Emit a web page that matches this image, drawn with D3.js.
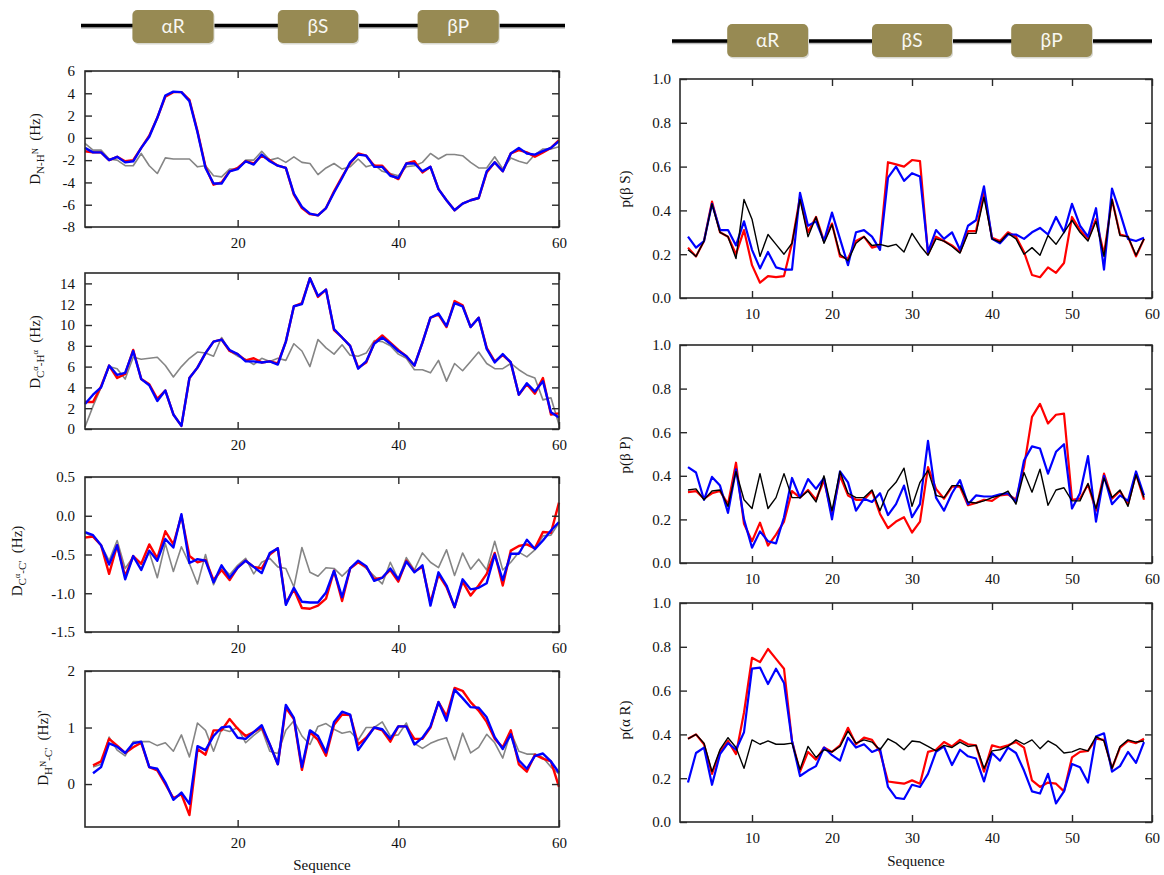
<!DOCTYPE html>
<html><head><meta charset="utf-8">
<script src="https://cdn.jsdelivr.net/npm/d3@7"></script>
<style>body{margin:0;background:#fff}svg{display:block}</style>
</head><body><svg id="c" width="1164" height="875"></svg>
<script>
// ---------------- DATA ----------------
const seqAll = d3.range(1, 61);     // residues 1..60
const seqFrom2 = d3.range(2, 61);   // residues 2..60
const seqRight = d3.range(2, 60);   // residues 2..59
const leftXTicks = [20, 40, 60];
const rightXTicks = [10, 20, 30, 40, 50, 60];
const headerLabels = ['αR', 'βS', 'βP'];
const headerFrom = [6.9, 25.0, 42.4];
const headerTo = [17.0, 35.0, 52.5];

// D N-HN
const nhRed = [-1.2,-1.3,-1.3,-2.0,-1.7,-2.1,-2.0,-0.9,0.2,1.8, 3.7,4.1,4.1,3.4,0.6,-2.6,-4.2,-4.0,-3.0,-2.7, -2.1,-2.3,-1.6,-2.0,-2.5,-2.7,-5.1,-6.3,-6.85,-6.95, -6.3,-4.8,-3.5,-2.3,-1.4,-1.6,-2.5,-2.5,-3.3,-3.7, -2.3,-2.1,-3.1,-2.6,-4.6,-5.6,-6.5,-5.9,-5.6,-5.4, -3.1,-2.2,-3.0,-1.4,-1.1,-1.3,-1.7,-1.3,-0.9,-0.2];
const nhBlue = [-0.9,-1.3,-1.3,-2.0,-1.7,-2.2,-2.1,-0.9,0.1,1.8, 3.8,4.15,4.1,3.3,0.5,-2.7,-4.1,-4.1,-3.0,-2.8, -2.1,-2.4,-1.5,-2.1,-2.5,-2.7,-5.0,-6.2,-6.8,-6.95, -6.3,-4.9,-3.6,-2.2,-1.5,-1.6,-2.6,-2.6,-3.4,-3.6, -2.3,-2.3,-3.0,-2.6,-4.6,-5.6,-6.5,-5.9,-5.6,-5.4, -3.0,-2.2,-3.0,-1.4,-0.9,-1.4,-1.5,-1.2,-0.9,-0.3];
const nhGray = [-0.5,-1.1,-1.1,-1.9,-2.0,-2.5,-2.5,-1.4,-2.5,-3.2, -1.8,-1.9,-1.9,-1.9,-2.6,-2.5,-3.4,-3.5,-2.8,-2.8, -2.0,-2.0,-1.2,-2.0,-1.8,-2.2,-1.7,-2.2,-2.3,-3.3, -2.7,-2.3,-2.8,-2.6,-1.9,-2.6,-2.4,-3.0,-3.2,-3.4, -2.6,-2.5,-2.2,-1.4,-1.9,-1.5,-1.5,-1.6,-2.2,-2.7, -2.7,-1.7,-2.8,-1.8,-2.1,-2.3,-1.5,-1.0,-1.0,-0.8];

// D Ca-Ha
const caRed = [2.6,2.6,4.1,6.1,4.9,5.3,7.6,4.8,4.3,2.9, 3.7,1.4,0.3,4.9,5.9,7.3,8.4,8.6,7.5,7.2, 6.6,6.8,6.4,6.5,6.3,8.4,11.8,12.1,14.5,12.7, 13.4,9.5,8.8,8.0,5.9,6.4,8.3,9.0,8.3,7.6, 7.0,6.1,8.3,10.7,11.0,9.8,12.3,11.9,9.8,10.7, 7.8,6.5,7.1,6.4,3.3,4.3,3.4,4.9,1.4,1.5];
const caBlue = [2.4,3.3,4.0,6.1,5.2,5.4,7.5,4.8,4.2,2.7, 3.7,1.4,0.3,4.9,5.9,7.3,8.4,8.6,7.6,7.2, 6.5,6.5,6.4,6.5,6.2,8.4,11.8,12.0,14.5,12.8, 13.4,9.6,8.8,8.0,5.8,6.5,8.2,8.8,8.2,7.5, 7.0,6.1,8.3,10.7,11.1,9.9,12.1,11.8,9.8,10.7, 7.7,6.4,7.2,6.4,3.3,4.4,3.6,4.6,1.6,1.1];
const caGray = [0.2,2.2,4.0,6.0,5.8,4.8,6.9,6.7,6.8,6.9, 6.1,5.0,6.0,6.8,7.4,7.3,7.0,8.8,7.5,7.0, 6.7,6.2,6.8,6.5,6.8,6.6,8.2,7.5,6.0,8.6, 7.8,7.2,8.1,7.1,7.0,7.3,8.5,8.4,8.0,7.2, 6.8,5.7,5.7,5.4,6.6,4.6,6.3,5.6,6.5,7.4, 6.3,5.8,5.8,6.3,5.7,5.2,4.9,2.8,3.0,0.4];

// D Ca-C'
const ccRed = [-0.28,-0.27,-0.38,-0.75,-0.38,-0.78,-0.52,-0.62,-0.37,-0.55, -0.20,-0.37,0.00,-0.52,-0.60,-0.57,-0.83,-0.70,-0.83,-0.67, -0.58,-0.66,-0.68,-0.50,-0.42,-1.13,-0.95,-1.19,-1.20,-1.16, -1.07,-0.71,-1.10,-0.68,-0.60,-0.66,-0.82,-0.80,-0.70,-0.85, -0.58,-0.72,-0.66,-1.12,-0.76,-0.92,-1.18,-0.85,-1.03,-0.90, -0.75,-0.48,-0.90,-0.45,-0.39,-0.37,-0.42,-0.21,-0.22,0.17];
const ccBlue = [-0.21,-0.25,-0.38,-0.63,-0.38,-0.82,-0.52,-0.70,-0.45,-0.58, -0.30,-0.41,0.02,-0.61,-0.56,-0.58,-0.86,-0.64,-0.80,-0.67, -0.58,-0.66,-0.74,-0.48,-0.42,-1.15,-0.93,-1.11,-1.12,-1.12, -0.99,-0.71,-1.05,-0.68,-0.58,-0.65,-0.84,-0.80,-0.68,-0.82, -0.59,-0.73,-0.64,-1.16,-0.73,-0.90,-1.18,-0.82,-0.95,-0.93, -0.87,-0.50,-0.83,-0.49,-0.49,-0.31,-0.43,-0.32,-0.19,-0.08];
const ccGray = [-0.22,-0.27,-0.38,-0.58,-0.32,-0.68,-0.53,-0.68,-0.47,-0.80, -0.36,-0.72,-0.40,-0.62,-0.88,-0.50,-0.89,-0.66,-0.76,-0.64, -0.55,-0.75,-0.60,-0.55,-0.66,-0.68,-0.92,-0.41,-0.73,-0.78, -0.67,-0.68,-0.78,-0.68,-0.60,-0.68,-0.78,-0.88,-0.60,-0.82, -0.54,-0.70,-0.48,-0.60,-0.67,-0.44,-0.77,-0.48,-0.69,-0.56, -0.70,-0.33,-0.70,-0.60,-0.47,-0.53,-0.44,-0.26,-0.25,-0.09];

// D HN-C' (residues 2..60)
const hcRed = [0.33,0.40,0.80,0.68,0.55,0.65,0.73,0.30,0.24,0.00, -0.25,-0.18,-0.55,0.62,0.52,0.95,0.95,1.15,0.98,0.85, 0.92,1.00,0.70,0.35,1.35,1.15,0.25,0.92,0.78,0.50, 1.05,1.23,1.22,0.70,0.82,1.00,0.95,0.75,1.02,1.02, 0.80,0.80,1.00,1.45,1.20,1.70,1.65,1.45,1.30,1.10, 0.80,0.65,0.95,0.35,0.22,0.52,0.45,0.40,-0.05];
const hcBlue = [0.19,0.30,0.72,0.66,0.55,0.72,0.75,0.30,0.27,0.03, -0.28,-0.15,-0.35,0.67,0.60,0.85,1.00,1.02,0.82,0.80, 0.92,1.04,0.70,0.35,1.40,1.17,0.30,0.95,0.85,0.56, 1.10,1.28,1.23,0.60,0.80,1.00,0.97,0.80,1.02,1.02, 0.70,0.82,1.02,1.45,1.12,1.67,1.52,1.36,1.35,1.18, 0.83,0.62,0.88,0.42,0.27,0.50,0.54,0.40,0.20];
const hcGray = [0.30,0.35,0.83,0.60,0.50,0.75,0.75,0.75,0.68,0.73, 0.58,0.87,0.48,1.08,0.95,0.58,0.97,0.93,1.00,0.73, 0.86,0.97,0.58,0.54,0.95,1.12,0.85,0.70,1.02,1.07, 0.97,0.90,0.93,0.78,1.00,1.00,1.10,0.85,0.87,1.08, 0.72,0.63,0.72,0.78,0.82,0.43,0.90,0.55,0.65,0.88, 0.73,0.46,0.92,0.58,0.53,0.53,0.47,0.30,0.18];

// p(beta S) (residues 2..59)
const bsRed = [0.23,0.19,0.26,0.44,0.30,0.28,0.20,0.31,0.15,0.07, 0.10,0.095,0.10,0.25,0.46,0.30,0.37,0.26,0.34,0.19, 0.18,0.26,0.28,0.23,0.24,0.62,0.61,0.60,0.63,0.625, 0.20,0.28,0.26,0.24,0.21,0.305,0.305,0.48,0.275,0.26, 0.30,0.28,0.21,0.105,0.095,0.14,0.115,0.16,0.37,0.31, 0.27,0.36,0.20,0.45,0.29,0.28,0.19,0.27];
const bsBlue = [0.28,0.23,0.26,0.43,0.31,0.31,0.24,0.35,0.22,0.135, 0.21,0.14,0.13,0.13,0.48,0.33,0.35,0.26,0.39,0.27, 0.15,0.30,0.31,0.28,0.22,0.55,0.60,0.535,0.57,0.555, 0.21,0.31,0.27,0.30,0.22,0.33,0.355,0.51,0.27,0.25, 0.29,0.29,0.27,0.30,0.32,0.29,0.37,0.30,0.43,0.33, 0.28,0.41,0.13,0.50,0.39,0.27,0.26,0.275];
const bsBlack = [0.22,0.19,0.26,0.43,0.30,0.28,0.18,0.45,0.36,0.19, 0.29,0.245,0.20,0.25,0.45,0.28,0.37,0.25,0.335,0.20, 0.17,0.25,0.28,0.24,0.245,0.235,0.245,0.21,0.295,0.24, 0.195,0.27,0.26,0.235,0.205,0.295,0.295,0.46,0.27,0.255, 0.295,0.27,0.20,0.23,0.195,0.285,0.245,0.30,0.355,0.30, 0.26,0.35,0.19,0.45,0.285,0.28,0.195,0.27];

// p(beta P)
const bpRed = [0.325,0.33,0.295,0.32,0.33,0.27,0.46,0.18,0.10,0.185, 0.08,0.13,0.19,0.33,0.30,0.335,0.29,0.38,0.22,0.40, 0.31,0.29,0.29,0.33,0.225,0.16,0.19,0.21,0.14,0.19, 0.44,0.34,0.295,0.35,0.35,0.265,0.275,0.29,0.285,0.31, 0.315,0.29,0.44,0.67,0.73,0.64,0.68,0.685,0.29,0.295, 0.36,0.24,0.41,0.295,0.33,0.27,0.41,0.29];
const bpBlue = [0.44,0.415,0.29,0.395,0.355,0.23,0.43,0.20,0.07,0.145, 0.10,0.09,0.21,0.39,0.30,0.385,0.34,0.39,0.20,0.42, 0.37,0.24,0.295,0.28,0.32,0.22,0.27,0.355,0.21,0.27, 0.56,0.30,0.24,0.32,0.38,0.27,0.31,0.305,0.305,0.315, 0.32,0.28,0.47,0.535,0.525,0.41,0.51,0.545,0.25,0.32, 0.49,0.19,0.40,0.27,0.31,0.285,0.42,0.31];
const bpBlack = [0.335,0.34,0.29,0.33,0.335,0.26,0.42,0.29,0.25,0.41, 0.25,0.30,0.41,0.30,0.30,0.33,0.28,0.40,0.24,0.42, 0.32,0.30,0.30,0.335,0.24,0.33,0.37,0.435,0.26,0.37, 0.425,0.31,0.30,0.355,0.355,0.28,0.275,0.285,0.30,0.31, 0.33,0.27,0.415,0.325,0.43,0.265,0.335,0.345,0.285,0.285, 0.365,0.25,0.39,0.30,0.335,0.26,0.405,0.30];

// p(alpha R)
const arRed = [0.38,0.40,0.355,0.22,0.32,0.37,0.31,0.50,0.75,0.73, 0.79,0.745,0.70,0.37,0.23,0.32,0.285,0.34,0.32,0.35, 0.43,0.355,0.385,0.375,0.32,0.185,0.18,0.175,0.19,0.175, 0.32,0.33,0.365,0.345,0.375,0.355,0.35,0.23,0.35,0.34, 0.35,0.365,0.34,0.19,0.16,0.18,0.175,0.14,0.295,0.32, 0.325,0.38,0.375,0.245,0.34,0.37,0.36,0.38];
const arBlue = [0.18,0.315,0.34,0.17,0.31,0.36,0.33,0.41,0.70,0.705, 0.63,0.70,0.635,0.37,0.21,0.235,0.255,0.34,0.305,0.28, 0.385,0.34,0.355,0.32,0.335,0.16,0.11,0.105,0.17,0.16, 0.22,0.32,0.345,0.26,0.33,0.30,0.29,0.185,0.315,0.28, 0.34,0.315,0.235,0.14,0.13,0.22,0.085,0.14,0.265,0.25, 0.18,0.39,0.405,0.23,0.255,0.32,0.27,0.365];
const arBlack = [0.38,0.40,0.36,0.23,0.33,0.385,0.34,0.245,0.375,0.355, 0.37,0.355,0.355,0.36,0.24,0.345,0.295,0.33,0.32,0.345, 0.415,0.36,0.375,0.365,0.33,0.38,0.36,0.33,0.37,0.365, 0.345,0.325,0.35,0.34,0.365,0.345,0.35,0.245,0.325,0.33, 0.345,0.375,0.355,0.375,0.335,0.37,0.35,0.315,0.32,0.335, 0.325,0.39,0.37,0.245,0.345,0.375,0.365,0.37];

// ---------------- DRAW ----------------
const svg = d3.select('#c');
const SERIF = '"Liberation Serif","Times New Roman",serif';
const AX = '#2a2a2a';

const xLeft = d3.scaleLinear().domain([1, 60]).range([85, 559]);
const xRight = d3.scaleLinear().domain([1, 60]).range([680, 1152]);

const STY = {
  gray: {stroke: '#858585', w: 1.6},
  red: {stroke: '#ff0000', w: 2.4},
  blue: {stroke: '#0000ff', w: 2.4},
  black: {stroke: '#000000', w: 1.4},
  redR: {stroke: '#ff0000', w: 2.2},
  blueR: {stroke: '#0000ff', w: 2.2}
};

function styleAxis(g) {
  g.select('.domain').remove();
  g.selectAll('.tick line').attr('stroke', AX).attr('stroke-width', 1.4);
  g.selectAll('.tick text').attr('font-family', SERIF).attr('font-size', 15).attr('fill', '#111');
}

function panel(cfg) {
  const x = cfg.x;
  const [x0, x1] = x.range();
  const y = d3.scaleLinear().domain(cfg.yDomain).range([cfg.bottom, cfg.top]);
  const g = svg.append('g');
  cfg.series.forEach(s => {
    const line = d3.line().x((d, i) => x(s.seq[i])).y(d => y(d));
    g.append('path').datum(s.values).attr('d', line)
      .attr('fill', 'none').attr('stroke', STY[s.style].stroke)
      .attr('stroke-width', STY[s.style].w).attr('stroke-linejoin', 'round');
  });
  const inner = -7;
  g.append('g').attr('transform', `translate(${x0},0)`)
    .call(d3.axisLeft(y).tickValues(cfg.yTicks).tickFormat(cfg.yFmt).tickSizeInner(inner).tickSizeOuter(0).tickPadding(cfg.padL || 10))
    .call(styleAxis);
  g.append('g').attr('transform', `translate(${x1},0)`)
    .call(d3.axisRight(y).tickValues(cfg.yTicks).tickFormat('').tickSizeInner(inner).tickSizeOuter(0))
    .call(styleAxis);
  g.append('g').attr('transform', `translate(0,${cfg.bottom})`)
    .call(d3.axisBottom(x).tickValues(cfg.xTicks).tickFormat(d => String(d)).tickSizeInner(inner).tickSizeOuter(0).tickPadding(cfg.padB || 10))
    .call(styleAxis);
  g.append('g').attr('transform', `translate(0,${cfg.top})`)
    .call(d3.axisTop(x).tickValues(cfg.xTicks).tickFormat('').tickSizeInner(inner).tickSizeOuter(0))
    .call(styleAxis);
  g.append('rect').attr('x', x0).attr('y', cfg.top).attr('width', x1 - x0).attr('height', cfg.bottom - cfg.top)
    .attr('fill', 'none').attr('stroke', AX).attr('stroke-width', 1.6);
  return y;
}

const fmtInt = d => String(d);
const fmt1 = d => d.toFixed(1);

panel({x: xLeft, top: 71, bottom: 227, yDomain: [-8, 6], yTicks: d3.range(-8, 7, 2), yFmt: fmtInt, xTicks: leftXTicks,
  series: [{seq: seqAll, values: nhGray, style: 'gray'}, {seq: seqAll, values: nhRed, style: 'red'}, {seq: seqAll, values: nhBlue, style: 'blue'}]});
panel({x: xLeft, top: 273, bottom: 429, yDomain: [0, 15], yTicks: d3.range(0, 15, 2), yFmt: fmtInt, xTicks: leftXTicks,
  series: [{seq: seqAll, values: caGray, style: 'gray'}, {seq: seqAll, values: caRed, style: 'red'}, {seq: seqAll, values: caBlue, style: 'blue'}]});
panel({x: xLeft, top: 477, bottom: 632, yDomain: [-1.5, 0.5], yTicks: [-1.5, -1, -0.5, 0, 0.5], yFmt: fmt1, xTicks: leftXTicks,
  series: [{seq: seqAll, values: ccGray, style: 'gray'}, {seq: seqAll, values: ccRed, style: 'red'}, {seq: seqAll, values: ccBlue, style: 'blue'}]});
panel({x: xLeft, top: 671, bottom: 827, yDomain: [-0.76, 2], yTicks: [0, 1, 2], yFmt: fmtInt, xTicks: leftXTicks,
  series: [{seq: seqFrom2, values: hcGray, style: 'gray'}, {seq: seqFrom2, values: hcRed, style: 'red'}, {seq: seqFrom2, values: hcBlue, style: 'blue'}]});

const pTicks = [0, 0.2, 0.4, 0.6, 0.8, 1.0];
panel({x: xRight, top: 79, bottom: 298, yDomain: [0, 1], yTicks: pTicks, yFmt: fmt1, xTicks: rightXTicks, padL: 9,
  series: [{seq: seqRight, values: bsRed, style: 'redR'}, {seq: seqRight, values: bsBlue, style: 'blueR'}, {seq: seqRight, values: bsBlack, style: 'black'}]});
panel({x: xRight, top: 345, bottom: 563, yDomain: [0, 1], yTicks: pTicks, yFmt: fmt1, xTicks: rightXTicks, padL: 9,
  series: [{seq: seqRight, values: bpRed, style: 'redR'}, {seq: seqRight, values: bpBlue, style: 'blueR'}, {seq: seqRight, values: bpBlack, style: 'black'}]});
panel({x: xRight, top: 603, bottom: 822, yDomain: [0, 1], yTicks: pTicks, yFmt: fmt1, xTicks: rightXTicks, padL: 9,
  series: [{seq: seqRight, values: arRed, style: 'redR'}, {seq: seqRight, values: arBlue, style: 'blueR'}, {seq: seqRight, values: arBlack, style: 'black'}]});

// y labels with sub/superscripts: level 0 = base, 1 = subscript, 2 = superscript on subscript
function richLabel(cx, cy, parts) {
  const t = svg.append('text').attr('transform', `translate(${cx},${cy}) rotate(-90)`)
    .attr('text-anchor', 'middle').attr('font-family', SERIF).attr('fill', '#111')
    .style('white-space', 'pre');
  const off = [0, 4, -2.5];
  const size = [15, 11, 8.5];
  let cur = 0;
  parts.forEach(([txt, lvl]) => {
    t.append('tspan').attr('dy', off[lvl] - cur).attr('font-size', size[lvl]).text(txt);
    cur = off[lvl];
  });
}
richLabel(40, 149, [['D', 0], ['N-H', 1], ['N', 2], ['  (Hz)', 0]]);
richLabel(40, 352, [['D', 0], ['C', 1], ['α', 2], ['-H', 1], ['α', 2], ['  (Hz)', 0]]);
richLabel(22, 561, [['D', 0], ['C', 1], ['α', 2], ['-C\'', 1], ['  (Hz)', 0]]);
richLabel(48, 748, [['D', 0], ['H', 1], ['N', 2], ['-C\'', 1], ['  (Hz)\'', 0]]);

richLabel(630, 189, [['p(β S)', 0]]);
richLabel(630, 455, [['p(β P)', 0]]);
richLabel(630, 720, [['p(α R)', 0]]);

svg.append('text').attr('x', (xLeft.range()[0] + xLeft.range()[1]) / 2).attr('y', 870)
  .attr('text-anchor', 'middle').attr('font-family', SERIF).attr('font-size', 15).attr('fill', '#111').text('Sequence');
svg.append('text').attr('x', (xRight.range()[0] + xRight.range()[1]) / 2).attr('y', 866)
  .attr('text-anchor', 'middle').attr('font-family', SERIF).attr('font-size', 15).attr('fill', '#111').text('Sequence');

// header bars with region boxes
function header(x, lx0, lx1, ly, by0, by1) {
  const g = svg.append('g');
  g.append('line').attr('x1', lx0).attr('x2', lx1).attr('y1', ly + 1.5).attr('y2', ly + 1.5)
    .attr('stroke', '#bbb').attr('stroke-width', 3.5);
  g.append('line').attr('x1', lx0).attr('x2', lx1).attr('y1', ly).attr('y2', ly)
    .attr('stroke', '#000').attr('stroke-width', 3.5);
  headerLabels.forEach((lab, i) => {
    const a = x(headerFrom[i]), b = x(headerTo[i]);
    g.append('rect').attr('x', a + 1).attr('y', by0 + 1.5).attr('width', b - a).attr('height', by1 - by0)
      .attr('rx', 5).attr('fill', '#d8d8d0');
    g.append('rect').attr('x', a).attr('y', by0).attr('width', b - a).attr('height', by1 - by0)
      .attr('rx', 5).attr('fill', '#978a53');
    g.append('text').attr('x', (a + b) / 2).attr('y', (by0 + by1) / 2 + 6.5)
      .attr('text-anchor', 'middle').attr('font-family', 'Lato, "Open Sans", sans-serif')
      .attr('font-size', 19).attr('fill', '#f7f7f2').text(lab);
  });
}
header(xLeft, 81, 565, 25.5, 10, 43);
header(xRight, 672, 1152, 41, 24, 57);
</script>
</body></html>
